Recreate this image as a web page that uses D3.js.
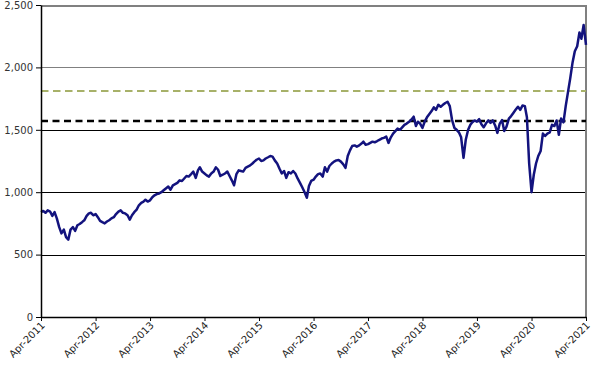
<!DOCTYPE html>
<html>
<head>
<meta charset="utf-8">
<script src="https://cdn.jsdelivr.net/npm/d3@7"></script>
<style>
  body { margin: 0; background: #fff; }
  text { font-family: "DejaVu Sans", Verdana, sans-serif; }
</style>
</head>
<body>
<script>
// Index level, read twice a month (1st and 16th) from Apr-2011 to Apr-2021
var firstYear = 2011;
var firstMonth = 3; // April, zero based
var indexValues = [
  840, 850, 835, 855, 845, 810, 840, 790, 720, 670,
  700, 640, 620, 700, 720, 690, 735, 745, 760, 775,
  810, 830, 835, 815, 825, 800, 770, 760, 750, 765,
  775, 790, 800, 825, 845, 855, 835, 830, 815, 780,
  815, 840, 860, 895, 915, 925, 940, 925, 935, 960,
  975, 985, 990, 1000, 1015, 1030, 1045, 1020, 1055, 1065,
  1075, 1095, 1090, 1110, 1130,
  1125, 1145, 1165, 1115, 1175, 1200, 1165, 1150, 1135, 1125,
  1150, 1165, 1200, 1180, 1130, 1140, 1150, 1165, 1130, 1095,
  1055, 1145, 1175, 1170, 1165, 1195, 1205, 1215, 1230, 1245,
  1260, 1270, 1250, 1255, 1270, 1280, 1290, 1285, 1255, 1230,
  1190, 1150, 1170, 1115, 1160, 1150, 1170, 1150, 1110, 1075,
  1040, 1000, 955, 1050, 1090, 1100, 1125, 1145, 1150, 1125,
  1200, 1165, 1210, 1230, 1245,
  1255, 1258, 1245, 1225, 1195, 1290, 1335, 1370, 1375, 1365,
  1375, 1390, 1405, 1380, 1385, 1395, 1405, 1400, 1410, 1420,
  1430, 1435, 1445, 1395, 1440, 1470, 1490, 1510, 1500, 1520,
  1540, 1550, 1565, 1580, 1605, 1530, 1565, 1550, 1515, 1565,
  1600, 1625, 1650, 1680, 1660, 1700, 1685, 1700, 1715, 1725,
  1690, 1580, 1515, 1500, 1480, 1440, 1275, 1420, 1500, 1540,
  1560, 1575, 1565, 1585, 1545, 1520,
  1552, 1575, 1555, 1575, 1535, 1475, 1550, 1578, 1490, 1525,
  1590, 1610, 1635, 1660, 1685, 1660, 1695, 1690, 1600, 1230,
  1000, 1140, 1230, 1290, 1330, 1470, 1450, 1470, 1480, 1540,
  1530, 1575, 1460, 1590, 1560, 1690, 1800, 1910, 2040, 2130,
  2170, 2280, 2230, 2340, 2180
];

// Horizontal reference levels
var upperLevel = 1810;
var lowerLevel = 1570;

// Axis ticks
var yTicks = [0, 500, 1000, 1500, 2000, 2500];
var tickYears = [2011, 2012, 2013, 2014, 2015, 2016, 2017, 2018, 2019, 2020, 2021];

// Define SVG area dimensions
var svgWidth = 592;
var svgHeight = 365;

var chartMargin = {
  top: 5,
  right: 6,
  bottom: 48,
  left: 41
};

var chartWidth = svgWidth - chartMargin.left - chartMargin.right;
var chartHeight = svgHeight - chartMargin.top - chartMargin.bottom;

var svg = d3.select("body")
  .append("svg")
  .attr("width", svgWidth)
  .attr("height", svgHeight);

var chartGroup = svg.append("g")
  .attr("transform", `translate(${chartMargin.left}, ${chartMargin.top})`);

// turn the index into dated points
var series = indexValues.map(function(v, i) {
  return {
    date: new Date(firstYear, firstMonth + Math.floor(i / 2), i % 2 ? 16 : 1),
    value: v
  };
});

var xTimeScale = d3.scaleTime()
  .domain([new Date(2011, 3, 1), new Date(2021, 3, 1)])
  .range([0, chartWidth]);

var yLinearScale = d3.scaleLinear()
  .domain([0, 2500])
  .range([chartHeight, 0]);

// gridlines (upper ones grey, lower ones black like the original)
chartGroup.append("g")
  .selectAll("line")
  .data(yTicks.filter(d => d > 0))
  .enter()
  .append("line")
  .attr("x1", 0)
  .attr("x2", chartWidth)
  .attr("y1", d => Math.round(yLinearScale(d)) + 0.5)
  .attr("y2", d => Math.round(yLinearScale(d)) + 0.5)
  .attr("stroke", d => d >= 2000 ? "#808080" : "#000")
  .attr("stroke-width", d => d === 2500 ? 2 : 1)
  .attr("shape-rendering", "crispEdges");

// right border of plot area
chartGroup.append("line")
  .attr("x1", chartWidth)
  .attr("x2", chartWidth)
  .attr("y1", 0)
  .attr("y2", chartHeight)
  .attr("stroke", "#808080")
  .attr("stroke-width", 2);

// dashed reference levels
chartGroup.append("line")
  .attr("x1", 0)
  .attr("x2", chartWidth)
  .attr("y1", yLinearScale(upperLevel))
  .attr("y2", yLinearScale(upperLevel))
  .attr("stroke", "#a7b169")
  .attr("stroke-width", 2)
  .attr("stroke-dasharray", "7.5,4.5");

chartGroup.append("line")
  .attr("x1", 0)
  .attr("x2", chartWidth)
  .attr("y1", yLinearScale(lowerLevel))
  .attr("y2", yLinearScale(lowerLevel))
  .attr("stroke", "#000")
  .attr("stroke-width", 2.5)
  .attr("stroke-dasharray", "7,4.5");

// the index line
var indexLine = d3.line()
  .x(d => xTimeScale(d.date))
  .y(d => yLinearScale(d.value));

chartGroup.append("path")
  .datum(series)
  .attr("d", indexLine)
  .attr("fill", "none")
  .attr("stroke", "#13137e")
  .attr("stroke-width", 2.5)
  .attr("stroke-linejoin", "round");

// y axis
var leftAxis = d3.axisLeft(yLinearScale)
  .tickValues(yTicks)
  .tickSize(5)
  .tickSizeOuter(0)
  .tickPadding(3)
  .tickFormat(d3.format(","));

var yAxis = chartGroup.append("g")
  .call(leftAxis);

yAxis.select(".domain").attr("stroke", "#000").attr("stroke-width", 1.5);
yAxis.selectAll("text")
  .attr("fill", "#333")
  .style("font-size", "10px");

// x axis with slanted labels
var bottomAxis = d3.axisBottom(xTimeScale)
  .tickValues(tickYears.map(y => new Date(y, 3, 1)))
  .tickSize(4)
  .tickSizeOuter(0)
  .tickFormat(d3.timeFormat("%b-%Y"));

var xAxis = chartGroup.append("g")
  .attr("transform", `translate(0, ${chartHeight})`)
  .call(bottomAxis);

xAxis.select(".domain").attr("stroke", "#000").attr("stroke-width", 1.5);
xAxis.selectAll("text")
  .attr("x", 0)
  .attr("y", 0)
  .attr("dy", 0)
  .attr("text-anchor", "end")
  .attr("transform", "translate(4, 9) rotate(-45)")
  .attr("fill", "#222")
  .style("font-size", "10px");
</script>
</body>
</html>
